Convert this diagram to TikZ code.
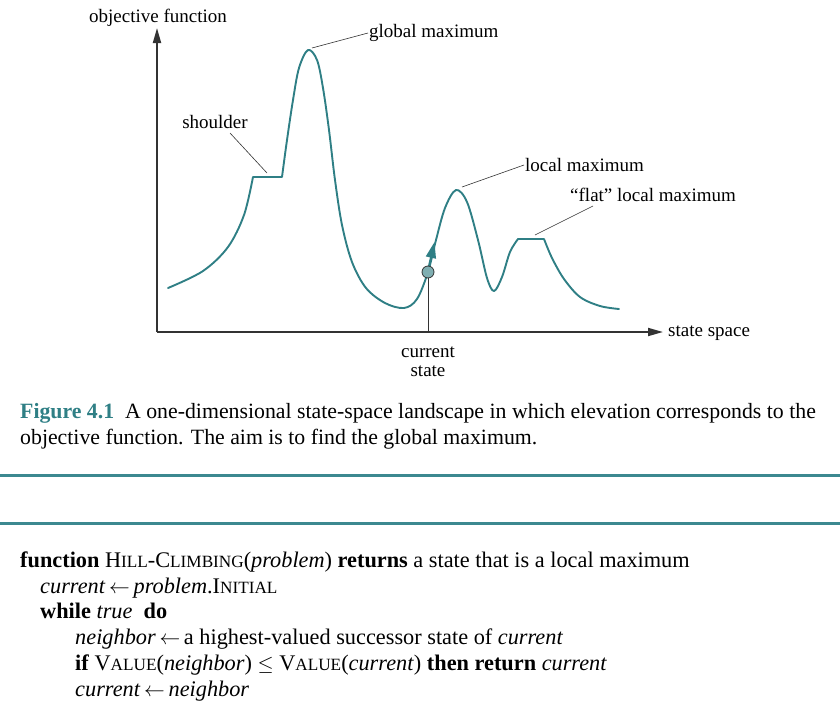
\documentclass[tikz,border=0pt]{standalone}
\usepackage{fontspec}
\setmainfont{Liberation Serif}
\usepackage{xcolor}
\usepackage{tikz}
\usetikzlibrary{positioning, arrows.meta, calc}
\definecolor{hcTeal}{HTML}{2F7F85}
\definecolor{hcTealLight}{HTML}{7FAEB1}
\definecolor{hcAxis}{HTML}{333333}
\definecolor{hcRule}{HTML}{3C8990}
\newcommand{\smcaps}[1]{{\fontsize{17.2}{18}\selectfont #1}}
\tikzset{
  axisarrow/.style={
    -{Triangle[length=15pt, width=8pt]},
    hcAxis, line width=1.8pt
  },
  landscape/.style={
    hcTeal, line width=1.9pt, line join=round, line cap=round
  },
  climb/.style={
    -{Triangle[length=16pt, width=10pt]},
    hcTeal, line width=1.9pt
  },
  leader/.style={hcAxis, line width=0.6pt},
  tag/.style={font=\fontsize{19}{19}\selectfont, inner sep=1pt, align=center},
  statedot/.style={
    circle, draw=hcAxis, fill=hcTealLight,
    line width=0.8pt, minimum size=12pt, inner sep=0pt
  },
  figcaption/.style={font=\fontsize{21.8}{26}\selectfont, inner sep=0pt, anchor=base west},
  algline/.style={font=\fontsize{22.3}{26}\selectfont, inner sep=0pt, anchor=base west},
  sepline/.style={hcRule, line width=3pt}
}

\begin{document}
\begin{tikzpicture}[x=1pt, y=-1pt]
      \useasboundingbox (0,0) rectangle (840,712);
      \coordinate (origin) at (157,332);
      \coordinate (ytip) at (157,28);
      \coordinate (xtip) at (663,332);
      \draw[axisarrow] (origin) -- (ytip);
      \draw[axisarrow] (origin) -- (xtip);
      \draw[landscape] plot[smooth, tension=0.55] coordinates {(168,288) (203,271) (228,247) (244,215) (253,177)}
        -- (282,177)
        plot[smooth, tension=0.55] coordinates {(282,177) (287,140) (293,100) (299,68) (308,50) (317,60) (323,88) (329,130) (335,180) (342,225) (352,262) (366,288) (385,303) (404,308) (417,299) (428,272) (436,240) (445,208) (456,190) (467,202) (478,240) (487,278) (494,291) (502,277) (510,252) (518,239)}
        -- (544,239)
        plot[smooth, tension=0.55] coordinates {(544,239) (552,258) (564,279) (580,297) (600,306) (619,309)};
      \draw[climb] (428,270) -- (434.5,242);
      \node[statedot] (cur) at (428,272) {};
      \coordinate (curbase) at (428,332);
      \draw[leader, line width=0.8pt] (cur) -- (curbase);
      \node[tag] (yname) at (158,18) {objective function};
      \node[tag, right] (xname) at (667,333) {state space};
      \node[tag] (curname) at (428,362) {current\\state};
      \node[tag, right] (gmax) at (368,33) {global maximum};
      \node[tag] (shoulder) at (215,122) {shoulder};
      \node[tag, right] (lmax) at (524,165) {local maximum};
      \node[tag, right] (fmax) at (569,195) {``flat'' local maximum};
      \coordinate (gpeak) at (312,48);
      \coordinate (spoint) at (267,173);
      \coordinate (lpeak) at (462,187);
      \coordinate (fpoint) at (535,235);
      \draw[leader] (gpeak) -- (gmax.west);
      \draw[leader] (spoint) -- (230,133);
      \draw[leader] (lpeak) -- (lmax.west);
      \draw[leader] (fpoint) -- (593,206);
      \node[figcaption] (cap1) at (20,418) {{\color{hcTeal}\textbf{Figure 4.1}}\enspace A one-dimensional state-space landscape in which elevation corresponds to the};
      \node[figcaption] (cap2) at (20,444) {objective function. The aim is to find the global maximum.};
      \draw[sepline] (0,475) -- (840,475);
      \draw[sepline] (0,523) -- (840,523);
      \node[algline] (a1) at (20,567) {\textbf{function} H\smcaps{ILL}-C\smcaps{LIMBING}(\textit{problem}) \textbf{returns} a state that is a local maximum};
      \node[algline] (a2) at (40,593) {\textit{current}\,$\leftarrow$\,\textit{problem}.I\smcaps{NITIAL}};
      \node[algline] (a3) at (40,618) {\textbf{while} \textit{true}\ \ \textbf{do}};
      \node[algline] (a4) at (75,644) {\textit{neighbor}\,$\leftarrow$\,a highest-valued successor state of \textit{current}};
      \node[algline] (a5) at (75,670) {\textbf{if} V\smcaps{ALUE}(\textit{neighbor}) $\leq$ V\smcaps{ALUE}(\textit{current}) \textbf{then return} \textit{current}};
      \node[algline] (a6) at (75,696) {\textit{current}\,$\leftarrow$\,\textit{neighbor}};
    \end{tikzpicture}
\end{document}
